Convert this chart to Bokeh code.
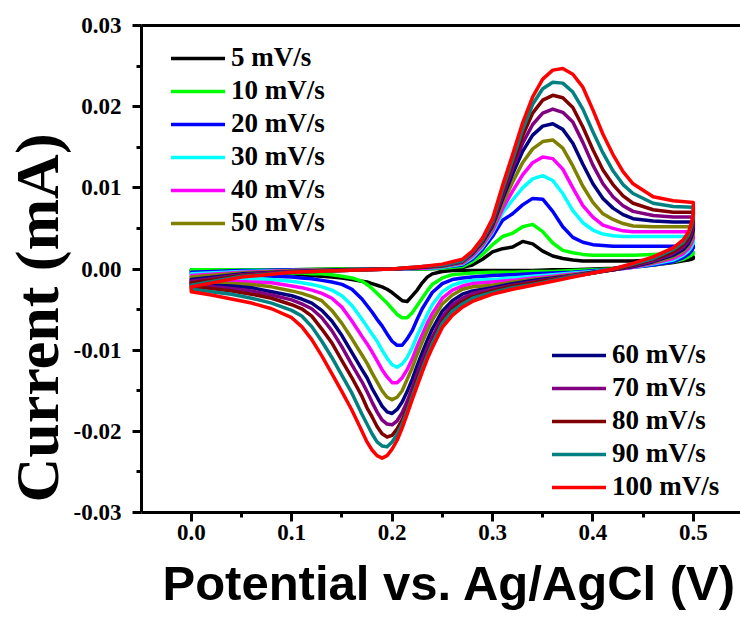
from bokeh.plotting import figure
from bokeh.models import (Range1d, FixedTicker, NumeralTickFormatter, Legend,
                          LegendItem, LinearAxis, Title)
from bokeh.embed import file_html
from bokeh.resources import INLINE

# ---------------- data ----------------
X_TICKS = [0.0, 0.1, 0.2, 0.3, 0.4, 0.5]
X_MINOR = [-0.05, 0.05, 0.15, 0.25, 0.35, 0.45, 0.55]
Y_TICKS = [-0.03, -0.02, -0.01, 0.0, 0.01, 0.02, 0.03]
Y_MINOR = [-0.025, -0.015, -0.005, 0.005, 0.015, 0.025]

RATES = ["5 mV/s", "10 mV/s", "20 mV/s", "30 mV/s", "40 mV/s", "50 mV/s",
         "60 mV/s", "70 mV/s", "80 mV/s", "90 mV/s", "100 mV/s"]
COLORS = ["#000000", "#00FF00", "#0000FF", "#00FFFF", "#FF00FF", "#808000",
          "#000080", "#800080", "#800000", "#008080", "#FF0000"]

X_LABEL = "Potential vs. Ag/AgCl (V)"
Y_LABEL = "Current (mA)"

# forward (anodic) sweep potentials, V
X_UP = [0.00, 0.05, 0.10, 0.15, 0.20, 0.23, 0.25, 0.27, 0.28, 0.29, 0.30, 0.31,
        0.32, 0.33, 0.34, 0.35, 0.36, 0.37, 0.38, 0.39, 0.40, 0.41, 0.42, 0.43,
        0.44, 0.46, 0.48, 0.50]
# reverse (cathodic) sweep potentials, V
X_LO = [0.50, 0.498, 0.495, 0.49, 0.48, 0.46, 0.44, 0.42, 0.40, 0.38, 0.36, 0.34,
        0.32, 0.30, 0.28, 0.27, 0.26, 0.25, 0.24, 0.235, 0.23, 0.225, 0.22, 0.215,
        0.21, 0.205, 0.20, 0.195, 0.19, 0.185, 0.18, 0.175, 0.17, 0.16, 0.15, 0.14,
        0.13, 0.12, 0.11, 0.10, 0.08, 0.06, 0.04, 0.02, 0.00]

UP_5 = [-0.0001, -0.0001, -0.0001, 0.0000, 0.0000, 0.0000, 0.0001, 0.0002, 0.0005,
        0.0012, 0.0021, 0.0025, 0.0027, 0.0034, 0.0031, 0.0022, 0.0016, 0.0013,
        0.0011, 0.0010, 0.0010, 0.0010, 0.0010, 0.0010, 0.0010, 0.0011, 0.0012,
        0.0015]
LO_5 = [0.0013, 0.0012, 0.0011, 0.0010, 0.0008, 0.0005, 0.0003, 0.0001, 0.0000,
        -0.0001, -0.0001, -0.0002, -0.0002, -0.0002, -0.0002, -0.0002, -0.0002,
        -0.0003, -0.0006, -0.0010, -0.0017, -0.0026, -0.0033, -0.0040, -0.0039,
        -0.0034, -0.0029, -0.0025, -0.0022, -0.0020, -0.0018, -0.0016, -0.0015,
        -0.0013, -0.0011, -0.0010, -0.0009, -0.0008, -0.0007, -0.0006, -0.0005,
        -0.0004, -0.0004, -0.0003, -0.0003]

UP_10 = [-0.0001, -0.0001, -0.0001, 0.0000, 0.0000, 0.0000, 0.0001, 0.0003, 0.0009,
         0.0018, 0.0030, 0.0040, 0.0044, 0.0052, 0.0055, 0.0046, 0.0032, 0.0023,
         0.0020, 0.0018, 0.0017, 0.0017, 0.0017, 0.0017, 0.0017, 0.0018, 0.0019,
         0.0021]
LO_10 = [0.0019, 0.0017, 0.0015, 0.0012, 0.0009, 0.0005, 0.0002, 0.0000, -0.0001,
         -0.0002, -0.0003, -0.0003, -0.0004, -0.0004, -0.0005, -0.0006, -0.0007,
         -0.0011, -0.0019, -0.0027, -0.0036, -0.0045, -0.0054, -0.0060, -0.0060,
         -0.0056, -0.0049, -0.0042, -0.0036, -0.0030, -0.0024, -0.0019, -0.0015,
         -0.0011, -0.0009, -0.0007, -0.0006, -0.0006, -0.0005, -0.0005, -0.0004,
         -0.0004, -0.0003, -0.0003, -0.0002]

UP_20 = [-0.0004, -0.0002, -0.0001, -0.0001, 0.0000, 0.0001, 0.0002, 0.0005, 0.0012,
         0.0024, 0.0040, 0.0060, 0.0068, 0.0079, 0.0087, 0.0086, 0.0071, 0.0052,
         0.0039, 0.0033, 0.0030, 0.0029, 0.0028, 0.0028, 0.0028, 0.0028, 0.0028,
         0.0029]
LO_20 = [0.0026, 0.0022, 0.0018, 0.0014, 0.0009, 0.0005, 0.0002, -0.0001, -0.0002,
         -0.0004, -0.0005, -0.0006, -0.0007, -0.0008, -0.0010, -0.0011, -0.0013,
         -0.0018, -0.0029, -0.0039, -0.0049, -0.0062, -0.0076, -0.0086, -0.0094,
         -0.0094, -0.0089, -0.0080, -0.0070, -0.0062, -0.0053, -0.0045, -0.0037,
         -0.0025, -0.0019, -0.0016, -0.0014, -0.0012, -0.0011, -0.0010, -0.0009,
         -0.0008, -0.0008, -0.0007, -0.0006]

UP_30 = [-0.0006, -0.0003, -0.0002, -0.0001, 0.0000, 0.0001, 0.0002, 0.0006, 0.0014,
         0.0027, 0.0045, 0.0069, 0.0085, 0.0100, 0.0111, 0.0115, 0.0109, 0.0093,
         0.0072, 0.0057, 0.0048, 0.0043, 0.0041, 0.0040, 0.0040, 0.0040, 0.0040,
         0.0040]
LO_30 = [0.0032, 0.0027, 0.0022, 0.0017, 0.0011, 0.0006, 0.0002, -0.0001, -0.0003,
         -0.0005, -0.0007, -0.0009, -0.0011, -0.0013, -0.0014, -0.0016, -0.0020,
         -0.0028, -0.0044, -0.0056, -0.0069, -0.0082, -0.0097, -0.0109, -0.0117,
         -0.0121, -0.0118, -0.0110, -0.0100, -0.0089, -0.0080, -0.0071, -0.0062,
         -0.0045, -0.0033, -0.0026, -0.0022, -0.0019, -0.0017, -0.0015, -0.0013,
         -0.0012, -0.0011, -0.0010, -0.0009]

UP_40 = [-0.0008, -0.0004, -0.0002, -0.0001, 0.0000, 0.0001, 0.0003, 0.0007, 0.0016,
         0.0029, 0.0047, 0.0074, 0.0096, 0.0116, 0.0131, 0.0138, 0.0136, 0.0123,
         0.0100, 0.0078, 0.0064, 0.0054, 0.0050, 0.0047, 0.0046, 0.0046, 0.0046,
         0.0046]
LO_40 = [0.0038, 0.0031, 0.0025, 0.0019, 0.0013, 0.0007, 0.0002, -0.0001, -0.0004,
         -0.0006, -0.0009, -0.0011, -0.0014, -0.0016, -0.0018, -0.0021, -0.0026,
         -0.0036, -0.0055, -0.0067, -0.0081, -0.0095, -0.0111, -0.0124, -0.0134,
         -0.0140, -0.0140, -0.0133, -0.0124, -0.0113, -0.0102, -0.0092, -0.0083,
         -0.0064, -0.0047, -0.0036, -0.0030, -0.0026, -0.0023, -0.0021, -0.0017,
         -0.0016, -0.0015, -0.0014, -0.0012]

UP_50 = [-0.0010, -0.0005, -0.0002, -0.0001, 0.0000, 0.0002, 0.0003, 0.0008, 0.0018,
         0.0031, 0.0050, 0.0080, 0.0107, 0.0131, 0.0148, 0.0157, 0.0159, 0.0149,
         0.0127, 0.0102, 0.0082, 0.0068, 0.0061, 0.0056, 0.0053, 0.0052, 0.0052,
         0.0052]
LO_50 = [0.0043, 0.0035, 0.0028, 0.0022, 0.0015, 0.0008, 0.0003, -0.0001, -0.0004,
         -0.0007, -0.0010, -0.0013, -0.0016, -0.0020, -0.0022, -0.0025, -0.0032,
         -0.0043, -0.0063, -0.0076, -0.0090, -0.0105, -0.0122, -0.0136, -0.0150,
         -0.0158, -0.0161, -0.0158, -0.0150, -0.0139, -0.0128, -0.0116, -0.0106,
         -0.0086, -0.0067, -0.0051, -0.0039, -0.0034, -0.0030, -0.0027, -0.0022,
         -0.0019, -0.0018, -0.0017, -0.0015]

UP_60 = [-0.0013, -0.0006, -0.0003, -0.0001, 0.0000, 0.0002, 0.0004, 0.0009, 0.0019,
         0.0033, 0.0053, 0.0086, 0.0117, 0.0145, 0.0165, 0.0176, 0.0179, 0.0172,
         0.0155, 0.0129, 0.0105, 0.0087, 0.0075, 0.0067, 0.0062, 0.0059, 0.0058,
         0.0058]
LO_60 = [0.0048, 0.0039, 0.0031, 0.0024, 0.0017, 0.0009, 0.0003, -0.0001, -0.0004,
         -0.0008, -0.0011, -0.0014, -0.0018, -0.0023, -0.0027, -0.0031, -0.0039,
         -0.0052, -0.0074, -0.0088, -0.0103, -0.0119, -0.0136, -0.0151, -0.0164,
         -0.0173, -0.0178, -0.0176, -0.0169, -0.0158, -0.0147, -0.0134, -0.0124,
         -0.0103, -0.0082, -0.0064, -0.0051, -0.0042, -0.0037, -0.0033, -0.0028,
         -0.0023, -0.0021, -0.0020, -0.0018]

UP_70 = [-0.0015, -0.0007, -0.0003, -0.0002, 0.0000, 0.0002, 0.0004, 0.0009, 0.0020,
         0.0034, 0.0055, 0.0090, 0.0124, 0.0155, 0.0178, 0.0192, 0.0197, 0.0193,
         0.0181, 0.0156, 0.0128, 0.0105, 0.0089, 0.0078, 0.0071, 0.0066, 0.0064,
         0.0064]
LO_70 = [0.0053, 0.0043, 0.0035, 0.0027, 0.0019, 0.0010, 0.0004, -0.0001, -0.0005,
         -0.0008, -0.0012, -0.0016, -0.0020, -0.0025, -0.0030, -0.0036, -0.0044,
         -0.0059, -0.0084, -0.0097, -0.0113, -0.0129, -0.0147, -0.0163, -0.0177,
         -0.0187, -0.0192, -0.0191, -0.0186, -0.0176, -0.0164, -0.0151, -0.0139,
         -0.0118, -0.0096, -0.0076, -0.0060, -0.0049, -0.0043, -0.0038, -0.0032,
         -0.0027, -0.0024, -0.0022, -0.0020]

UP_80 = [-0.0017, -0.0008, -0.0004, -0.0002, 0.0000, 0.0002, 0.0005, 0.0010, 0.0021,
         0.0035, 0.0057, 0.0094, 0.0130, 0.0164, 0.0192, 0.0208, 0.0214, 0.0211,
         0.0199, 0.0175, 0.0147, 0.0122, 0.0104, 0.0090, 0.0081, 0.0073, 0.0070,
         0.0070]
LO_80 = [0.0058, 0.0047, 0.0038, 0.0030, 0.0021, 0.0012, 0.0005, -0.0001, -0.0005,
         -0.0009, -0.0013, -0.0017, -0.0021, -0.0027, -0.0034, -0.0040, -0.0049,
         -0.0064, -0.0090, -0.0104, -0.0120, -0.0136, -0.0154, -0.0172, -0.0186,
         -0.0197, -0.0205, -0.0207, -0.0203, -0.0194, -0.0182, -0.0171, -0.0157,
         -0.0134, -0.0113, -0.0091, -0.0074, -0.0058, -0.0049, -0.0044, -0.0036,
         -0.0031, -0.0027, -0.0024, -0.0022]

UP_90 = [-0.0020, -0.0009, -0.0004, -0.0002, 0.0000, 0.0003, 0.0005, 0.0010, 0.0021,
         0.0036, 0.0059, 0.0098, 0.0135, 0.0172, 0.0203, 0.0222, 0.0230, 0.0229,
         0.0218, 0.0197, 0.0169, 0.0143, 0.0121, 0.0104, 0.0093, 0.0081, 0.0077,
         0.0076]
LO_90 = [0.0063, 0.0052, 0.0042, 0.0033, 0.0024, 0.0013, 0.0006, 0.0000, -0.0005,
         -0.0009, -0.0014, -0.0019, -0.0023, -0.0029, -0.0036, -0.0043, -0.0052,
         -0.0067, -0.0092, -0.0107, -0.0123, -0.0140, -0.0157, -0.0175, -0.0191,
         -0.0204, -0.0213, -0.0219, -0.0218, -0.0213, -0.0203, -0.0191, -0.0179,
         -0.0153, -0.0131, -0.0109, -0.0089, -0.0071, -0.0058, -0.0051, -0.0042,
         -0.0036, -0.0031, -0.0028, -0.0025]

UP_100 = [-0.0022, -0.0010, -0.0004, -0.0002, 0.0000, 0.0003, 0.0006, 0.0012, 0.0022,
          0.0038, 0.0062, 0.0103, 0.0141, 0.0180, 0.0212, 0.0234, 0.0245, 0.0247,
          0.0240, 0.0224, 0.0196, 0.0166, 0.0141, 0.0120, 0.0105, 0.0089, 0.0084,
          0.0082]
LO_100 = [0.0068, 0.0056, 0.0045, 0.0036, 0.0026, 0.0015, 0.0007, 0.0000, -0.0005,
          -0.0010, -0.0015, -0.0020, -0.0025, -0.0031, -0.0040, -0.0047, -0.0057,
          -0.0072, -0.0097, -0.0111, -0.0127, -0.0144, -0.0161, -0.0179, -0.0196,
          -0.0211, -0.0222, -0.0230, -0.0233, -0.0230, -0.0223, -0.0213, -0.0200,
          -0.0174, -0.0151, -0.0129, -0.0107, -0.0087, -0.0071, -0.0060, -0.0049,
          -0.0042, -0.0037, -0.0032, -0.0028]

UPS = [UP_5, UP_10, UP_20, UP_30, UP_40, UP_50, UP_60, UP_70, UP_80, UP_90, UP_100]
LOS = [LO_5, LO_10, LO_20, LO_30, LO_40, LO_50, LO_60, LO_70, LO_80, LO_90, LO_100]

# ---------------- figure ----------------
p = figure(width=740, height=623, output_backend="svg", toolbar_location=None,
           x_range=Range1d(-0.0496, 0.547), y_range=Range1d(-0.03, 0.03),
           min_border_left=141, min_border_right=0, min_border_top=25,
           min_border_bottom=111, background_fill_color="white",
           border_fill_color="white")
p.outline_line_color = None
p.xgrid.visible = False
p.ygrid.visible = False

renderers = []
for up, lo, col in zip(UPS, LOS, COLORS):
    xs = X_UP + X_LO + [X_UP[0]]
    ys = up + lo + [up[0]]
    r = p.line(xs, ys, line_color=col, line_width=3.5, line_join="round",
               line_cap="round")
    renderers.append(r)

for ax in (p.xaxis[0], p.yaxis[0]):
    ax.axis_line_width = 3
    ax.major_tick_line_width = 3
    ax.minor_tick_line_width = 3
    ax.major_tick_in = 0
    ax.major_tick_out = 9
    ax.minor_tick_in = 0
    ax.minor_tick_out = 5
    ax.major_label_text_font = "Liberation Serif"
    ax.major_label_text_font_style = "bold"
    ax.major_label_text_font_size = "23px"
    ax.major_label_text_color = "black"

p.xaxis[0].ticker = FixedTicker(ticks=X_TICKS, minor_ticks=X_MINOR)
p.xaxis[0].formatter = NumeralTickFormatter(format="0.0")
p.xaxis[0].major_label_standoff = 3
p.yaxis[0].ticker = FixedTicker(ticks=Y_TICKS, minor_ticks=Y_MINOR)
p.yaxis[0].formatter = NumeralTickFormatter(format="0.00")
p.yaxis[0].major_label_standoff = 11

top = LinearAxis(ticker=FixedTicker(ticks=[]), axis_line_width=3,
                 major_tick_line_color=None, minor_tick_line_color=None)
p.add_layout(top, "above")

ylab = Title(text=Y_LABEL, align="left", offset=10, standoff=0,
             text_font="Liberation Serif", text_font_style="bold",
             text_font_size="62px", text_color="black")
p.add_layout(ylab, "left")
xlab = Title(text=X_LABEL, align="left", offset=21, standoff=22,
             text_font="Liberation Sans", text_font_style="bold",
             text_font_size="49px", text_color="black")
p.add_layout(xlab, "below")

items1 = [LegendItem(label=RATES[i], renderers=[renderers[i]]) for i in range(6)]
items2 = [LegendItem(label=RATES[i], renderers=[renderers[i]]) for i in range(6, 11)]
for items, loc in ((items1, (30, 274)), (items2, (411, 10))):
    leg = Legend(items=items, location=loc, glyph_width=54, glyph_height=28,
                 label_height=28, label_standoff=6, spacing=2, padding=0, margin=0,
                 border_line_color=None, background_fill_alpha=0,
                 label_text_font="Liberation Serif", label_text_font_style="bold",
                 label_text_font_size="27px", label_text_color="black")
    p.add_layout(leg)

open("out.html", "w").write(file_html(p, INLINE))
